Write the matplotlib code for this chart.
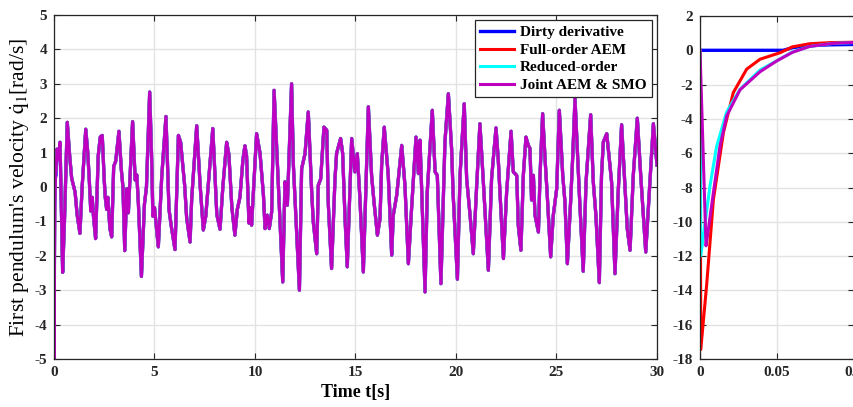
import numpy as np
import matplotlib
matplotlib.use("Agg")
import matplotlib.pyplot as plt

plt.rcParams['font.family'] = ['Liberation Serif', 'DejaVu Serif']
plt.rcParams['mathtext.fontset'] = 'stix'
plt.rcParams['axes.unicode_minus'] = False

# start-up transient (first 0.1 s), one per estimator
t_dirty = [0.0, 0.02, 0.054, 0.06, 0.07, 0.085, 0.1]
q_dirty = [0.0, 0.0, 0.0, 0.15, 0.27, 0.32, 0.34]

t_full = [0.0, 0.0005, 0.0043, 0.0087, 0.0152, 0.0216, 0.0303, 0.039, 0.052, 0.06, 0.071, 0.085, 0.1]
q_full = [0.0, -17.45, -13.7, -8.7, -4.8, -2.47, -1.1, -0.52, -0.14, 0.2, 0.38, 0.45, 0.47]

t_reduced = [0.0, 0.0005, 0.0065, 0.0108, 0.0173, 0.026, 0.039, 0.052, 0.06, 0.071, 0.086, 0.1]
q_reduced = [0.0, -11.98, -7.9, -5.6, -3.6, -2.27, -1.15, -0.5, -0.1, 0.22, 0.4, 0.45]

t_joint = [0.0, 0.0039, 0.0055, 0.0087, 0.013, 0.0173, 0.026, 0.039, 0.0498, 0.06, 0.071, 0.086, 0.1]
q_joint = [0.0, -11.4, -10.4, -8.3, -5.58, -3.83, -2.3, -1.25, -0.62, -0.12, 0.22, 0.4, 0.46]

# common response after the transient (all four estimators overlap)
t_main = [0.15, 0.22, 0.3, 0.36, 0.43, 0.52, 0.66, 0.78, 0.88, 1.05, 1.15, 1.29, 1.4, 1.58, 1.68,
          1.76, 1.83, 1.9, 1.97, 2.07, 2.2, 2.3, 2.4, 2.5, 2.55, 2.62, 2.68, 2.78, 2.87, 2.97,
          3.07, 3.23, 3.35, 3.43, 3.52, 3.62, 3.7, 3.91, 4.04, 4.12, 4.2, 4.35, 4.5, 4.6, 4.76,
          4.85, 4.92, 5.0, 5.19, 5.36, 5.57, 5.72, 5.85, 6.02, 6.1, 6.19, 6.3, 6.5, 6.6, 6.77,
          6.85, 7.1, 7.27, 7.43, 7.55, 7.9, 8.1, 8.26, 8.4, 8.59, 8.7, 8.85, 9.0, 9.12, 9.25,
          9.4, 9.5, 9.58, 9.7, 9.76, 9.83, 10.08, 10.25, 10.42, 10.5, 10.61, 10.71, 10.83, 10.95,
          11.11, 11.24, 11.38, 11.49, 11.61, 11.82, 11.91, 12.21, 12.32, 12.49, 12.65, 12.82,
          12.9, 13.07, 13.15, 13.27, 13.43, 13.57, 13.65, 13.81, 13.98, 14.06, 14.26, 14.36,
          14.48, 14.59, 14.81, 14.97, 15.09, 15.22, 15.39, 15.64, 15.8, 15.92, 16.09, 16.22,
          16.3, 16.43, 16.63, 16.8, 16.88, 17.05, 17.3, 17.46, 17.63, 17.79, 18.01, 18.13,
          18.21, 18.46, 18.57, 18.82, 18.96, 19.07, 19.25, 19.45, 19.62, 19.78, 19.86, 20.07,
          20.2, 20.41, 20.53, 20.7, 20.86, 21.03, 21.19, 21.36, 21.61, 21.77, 21.99, 22.1,
          22.36, 22.52, 22.74, 22.85, 23.02, 23.1, 23.23, 23.35, 23.48, 23.6, 23.68, 23.76,
          23.85, 23.93, 24.1, 24.18, 24.31, 24.43, 24.54, 24.71, 24.84, 25.01, 25.14, 25.31,
          25.42, 25.54, 25.71, 25.81, 25.92, 26.14, 26.33, 26.47, 26.7, 26.83, 26.96, 27.13,
          27.24, 27.33, 27.5, 27.74, 27.91, 28.07, 28.24, 28.41, 28.52, 28.66, 28.82, 29.02,
          29.19, 29.44, 29.57, 29.82, 29.95, 30.0]
q_main = [1.1, 0.8, 1.3, -0.5, -2.48, -1.0, 1.88, 0.9, 0.25, -0.15, -0.8, -1.35, 0.0, 1.68, 1.0,
          0.15, -0.7, -0.3, -0.9, -1.5, 0.9, 1.45, 1.5, 0.2, -0.3, -0.65, -0.3, -1.2, -1.45, 0.6,
          0.75, 1.62, 0.5, 0.0, -1.85, -0.05, -0.75, 1.9, 0.2, 0.35, -0.5, -2.6, -0.5, 0.0, 2.76,
          1.0, -0.85, -0.6, -1.74, 0.3, 2.05, -0.65, -1.2, -1.82, -0.3, 1.5, 1.3, 0.05, -0.9, -1.6,
          -0.35, 1.78, 0.05, -1.25, -0.85, 1.7, -0.8, -1.23, 0.0, 1.3, 0.95, -0.6, -1.4, -0.65, -0.3,
          0.8, 1.2, 0.9, -1.05, -0.6, -1.11, 1.55, 0.98, -0.24, -1.21, -0.82, -1.21, -0.72, 2.81,
          0.73, -0.92, -2.76, 0.15, -0.53, 3.0, 0.63, -3.0, 0.53, 0.97, 2.18, -0.14,
          -1.02, -1.94, 0.05, 0.24, 1.74, 1.65, -0.53, -2.37, 0.24, 0.98, 1.41, 0.98,
          -0.92, -2.32, 1.41, 0.44, 0.97, -0.34, -2.47, 2.33, 0.34, -0.43, -1.4, -0.92,
          0.63, 1.74, 0.34, -1.98, -0.82, -0.24, 1.21, 0.05, -2.23, -0.63, 1.45, 0.39,
          1.36, -3.05, -0.14, 2.23, 0.44, 0.34, -2.81, 1.31, 2.71, 1.12, -0.24, -2.68,
          0.34, 2.42, 0.24, -0.82, -1.94, 0.05, 1.84, 0.15, -2.42, 0.24, 1.72, 0.82,
          -2.08, -0.14, 1.62, 0.44, 0.34, -1.12, -1.84, 0.34, 1.45, 1.21, 1.12, -0.38,
          0.34, -0.82, -1.31, 0.34, 2.13, 0.82, -0.24, -2.03, -0.82, -0.05, 2.23, 0.34,
          -0.43, -2.23, -0.34, 0.92, 2.57, -0.24, -2.45, 0.15, 2.1, 0.15, -0.82, -2.78,
          0.34, 1.31, 1.55, 0.15, -2.52, -0.14, 1.81, -0.05, -1.21, -1.84, 0.34, 2.0,
          0.34, -1.89, -0.63, 1.84, 0.98, 0.64]

labels = ['Dirty derivative', 'Full-order AEM', 'Reduced-order', 'Joint AEM & SMO']
colors = ['#0000ff', '#ff0000', '#00ffff', '#c000c0']
widths = [2.4, 2.2, 2.2, 2.2]
starts = [(t_dirty, q_dirty), (t_full, q_full), (t_reduced, q_reduced), (t_joint, q_joint)]

fig = plt.figure(figsize=(8.54, 4.07), dpi=100)
ax = fig.add_axes([54 / 854, 1 - 359 / 407, 603 / 854, 344 / 407])
ax2 = fig.add_axes([700 / 854, 1 - 359 / 407, 154 / 854, 343 / 407])

for (ts, qs), lab, c, w in zip(starts, labels, colors, widths):
    t = np.concatenate([ts, t_main])
    q = np.concatenate([qs, q_main])
    ax.plot(t, q, color=c, lw=w, label=lab, solid_joinstyle='round')
    ax2.plot(ts, qs, color=c, lw=w, solid_joinstyle='round')

ax.set_xlim(0, 30)
ax.set_ylim(-5, 5)
ax.set_xticks(range(0, 31, 5))
ax.set_yticks(range(-5, 6))
ax.set_xlabel('Time t[s]', fontsize=13, fontweight='bold', labelpad=4)
ax.set_ylabel(r"First pendulum's velocity $\dot{\mathrm{q}}_1$[rad/s]", fontsize=15.5, labelpad=2)

ax2.set_xlim(0, 0.1)
ax2.set_ylim(-18, 2)
ax2.set_xticks([0, 0.05, 0.1])
ax2.set_xticklabels(['0', '0.05', '0.1'])
ax2.set_yticks(range(-18, 3, 2))

for a in (ax, ax2):
    a.grid(True, color='#e3e3e3', lw=1.0)
    a.set_axisbelow(True)
    a.tick_params(direction='in', top=True, right=True, length=4, width=0.8,
                  labelsize=11, colors='#262626', pad=5)
    for lbl in a.get_xticklabels() + a.get_yticklabels():
        lbl.set_fontweight('bold')
    for s in a.spines.values():
        s.set_color('#262626')
        s.set_linewidth(0.9)

leg = ax.legend(loc='upper right', prop={'weight': 'bold', 'size': 11},
                frameon=True, fancybox=False, edgecolor='#262626', framealpha=1,
                borderaxespad=0.35, handlelength=2.2, labelspacing=0.25, borderpad=0.35,
                handletextpad=0.4)
leg.get_frame().set_linewidth(0.9)

fig.savefig('out.png', dpi=100)
